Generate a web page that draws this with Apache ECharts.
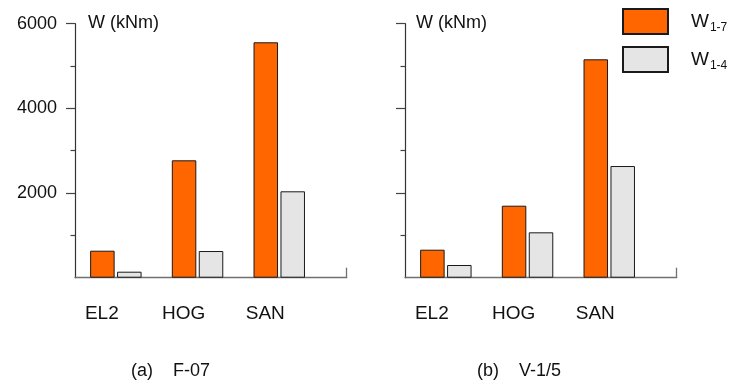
<!DOCTYPE html>
<html>
<head>
<meta charset="utf-8">
<script src="https://cdn.jsdelivr.net/npm/echarts@6/dist/echarts.min.js"></script>
<style>
  html, body { margin: 0; padding: 0; background: #fff; }
  #chart { width: 735px; height: 385px; }
</style>
</head>
<body>
<div id="chart"></div>
<script>
// Work W (kNm) per site, two loading cases
const categories = ['EL2', 'HOG', 'SAN'];
const seriesNames = ['W1-7', 'W1-4'];
const f07_W17 = [638, 2773, 5561];
const f07_W14 = [142, 630, 2041];
const v15_W17 = [661, 1701, 5159];
const v15_W14 = [300, 1072, 2638];
const yMajorTicks = [2000, 4000, 6000];
const captions = ['(a)    F-07', '(b)    V-1/5'];

const FONT = 'Liberation Sans, Arial, sans-serif';
const ORANGE = '#FF6600';
const GREY = '#E5E5E5';
const BAND = 81.7;          // width of one category band
const PLOT_TOP = 23.7;
const PLOT_H = 254;
const AXIS_W = 271.7;       // full length of the bottom axis line
const panels = [
  { left: 75, w17: f07_W17, w14: f07_W14, showLabels: true, nameShift: 13 },
  { left: 405, w17: v15_W17, w14: v15_W14, showLabels: false, nameShift: 11 }
];

const grid = [], xAxis = [], yAxis = [], series = [];
panels.forEach((p) => {
  const gBars = grid.length;
  grid.push({ left: p.left, top: PLOT_TOP, width: BAND * categories.length, height: PLOT_H });
  const gLine = grid.length;
  grid.push({ left: p.left, top: PLOT_TOP, width: AXIS_W, height: PLOT_H });

  // category axis carrying the bars and their labels
  xAxis.push({
    type: 'category', gridIndex: gBars, data: categories,
    axisLine: { show: false }, axisTick: { show: false },
    axisLabel: { fontFamily: FONT, fontSize: 19, color: '#111', margin: 27, padding: [0, 28, 0, 0] }
  });
  // plain bottom line with the short end mark
  xAxis.push({
    type: 'value', gridIndex: gLine, min: 0, max: 1, interval: 1,
    axisLine: { show: true, lineStyle: { color: '#707070', width: 1.3 } },
    axisTick: { show: true, inside: true, length: 10, customValues: [1], lineStyle: { color: '#707070', width: 1.3 } },
    axisLabel: { show: false }, splitLine: { show: false }
  });

  yAxis.push({
    type: 'value', gridIndex: gBars, min: 0, max: 6000, interval: 2000,
    name: 'W (kNm)', nameLocation: 'end', nameGap: 1,
    nameTextStyle: { fontFamily: FONT, fontSize: 18, color: '#111', align: 'left', verticalAlign: 'middle', padding: [0, 0, 0, p.nameShift] },
    axisLine: { show: true, lineStyle: { color: '#333', width: 1.2 } },
    axisTick: { show: true, length: 9, customValues: yMajorTicks, lineStyle: { color: '#444', width: 1.2 } },
    minorTick: { show: true, splitNumber: 2, length: 4.5, lineStyle: { color: '#444', width: 1.2 } },
    axisLabel: {
      show: p.showLabels, customValues: yMajorTicks, formatter: v => String(v),
      fontFamily: FONT, fontSize: 18, color: '#111', margin: 18
    },
    splitLine: { show: false }
  });
  yAxis.push({ type: 'value', gridIndex: gLine, min: 0, max: 6000, show: false });

  series.push({
    type: 'bar', name: seriesNames[0], xAxisIndex: gBars, yAxisIndex: gBars, data: p.w17,
    barWidth: 24.5, barGap: '10%',
    itemStyle: { color: ORANGE, borderColor: '#1a1a1a', borderWidth: 1 }
  });
  series.push({
    type: 'bar', name: seriesNames[1], xAxisIndex: gBars, yAxisIndex: gBars, data: p.w14,
    barWidth: 24.5, barGap: '10%',
    itemStyle: { color: GREY, borderColor: '#1a1a1a', borderWidth: 1 }
  });
});

const captionStyle = { fontFamily: FONT, fontSize: 18, fontWeight: 'normal', color: '#111' };
const chart = echarts.init(document.getElementById('chart'), null, { renderer: 'canvas' });
chart.setOption({
  animation: false,
  backgroundColor: '#fff',
  title: [
    { text: captions[0], left: 126, top: 357, textStyle: captionStyle },
    { text: captions[1], left: 472, top: 357, textStyle: captionStyle }
  ],
  legend: {
    orient: 'vertical', left: 617, top: 3,
    itemWidth: 45, itemHeight: 25, itemGap: 11, icon: 'rect',
    data: seriesNames,
    formatter: name => '{w|W}{s|' + name.slice(1) + '}',
    textStyle: {
      fontFamily: FONT, color: '#111', padding: [0, 0, 0, 18],
      rich: {
        w: { fontFamily: FONT, fontSize: 19, color: '#111' },
        s: { fontFamily: FONT, fontSize: 12, color: '#111', padding: [12, 0, 0, 1] }
      }
    }
  },
  grid, xAxis, yAxis, series
});
</script>
</body>
</html>
